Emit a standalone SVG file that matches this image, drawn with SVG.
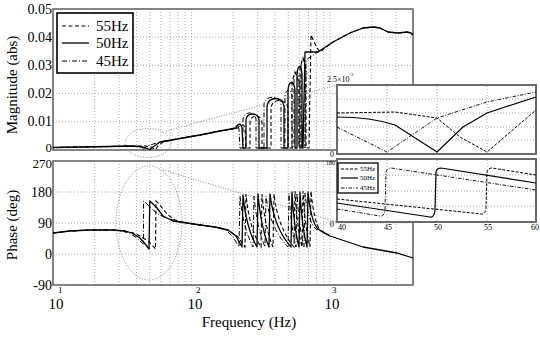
<svg xmlns="http://www.w3.org/2000/svg" width="540" height="338" viewBox="0 0 540 338">
<style>
.grid{stroke:#9a9a9a;stroke-width:0.8;stroke-dasharray:1 2;fill:none}
.frame{stroke:#666;stroke-width:1.6;fill:none}
.iframe{stroke:#6a6a6a;stroke-width:2;fill:#fff}
.c50{stroke:#000;stroke-width:1.3;fill:none;stroke-linejoin:round}
.c55{stroke:#000;stroke-width:1.1;fill:none;stroke-dasharray:4 2.5}
.c45{stroke:#000;stroke-width:1;fill:none;stroke-dasharray:5 2 1 2}
.i50{stroke:#000;stroke-width:1.2;fill:none}
.i55{stroke:#000;stroke-width:1;fill:none;stroke-dasharray:3 1.5}
.i45{stroke:#000;stroke-width:0.9;fill:none;stroke-dasharray:3.5 1.5 1 1.5}
.zoom{stroke:#777;stroke-width:0.9;fill:none;stroke-dasharray:1 1.6}
text{font-family:'Liberation Serif','Times New Roman',serif;fill:#000}
.tl{font-size:15px}
.tls{font-size:14px;text-anchor:end}
.tlx{font-size:13px;text-anchor:end}
.sup{font-size:9px}
.it{font-size:8px}
</style>
<rect x="0" y="0" width="540" height="338" fill="#fff"/>

<g id="magnitude-axes" font-family="Liberation Serif, serif">
<path class="grid" d="M94.7,9V150M119.1,9V150M136.4,9V150M149.8,9V150M160.8,9V150M170,9V150M178.1,9V150M185.2,9V150M191.5,9V150M233.2,9V150M257.6,9V150M274.9,9V150M288.3,9V150M299.3,9V150M308.5,9V150M316.6,9V150M323.7,9V150M330,9V150M371.7,9V150M396.1,9V150M53,121.8H413M53,93.6H413M53,65.4H413M53,37.2H413"/>
<rect class="frame" x="53" y="9" width="360" height="141"/>
<text class="tls" x="52" y="14">0.05</text>
<text class="tls" x="52" y="42">0.04</text>
<text class="tls" x="52" y="70">0.03</text>
<text class="tls" x="52" y="98">0.02</text>
<text class="tls" x="52" y="126">0.01</text>
<text class="tlx" x="52" y="152">0</text>
<text class="tl" transform="translate(17,85) rotate(-90)" text-anchor="middle">Magnitude (abs)</text>
</g>

<g id="phase-axes" font-family="Liberation Serif, serif">
<path class="grid" d="M94.7,161V285M119.1,161V285M136.4,161V285M149.8,161V285M160.8,161V285M170,161V285M178.1,161V285M185.2,161V285M191.5,161V285M233.2,161V285M257.6,161V285M274.9,161V285M288.3,161V285M299.3,161V285M308.5,161V285M316.6,161V285M323.7,161V285M330,161V285M371.7,161V285M396.1,161V285M53,192H413M53,223H413M53,254H413"/>
<rect class="frame" x="53" y="161" width="360" height="124"/>
<text class="tlx" x="52" y="167.5">270</text>
<text class="tls" x="52" y="197">180</text>
<text class="tls" x="52" y="228">90</text>
<text class="tls" x="52" y="259">0</text>
<text class="tls" x="52" y="290">-90</text>
<text class="tl" transform="translate(17,225) rotate(-90)" text-anchor="middle">Phase (deg)</text>
<text class="tl" x="56" y="309" text-anchor="middle">10</text><text class="sup" x="58" y="293">1</text>
<text class="tl" x="195" y="309" text-anchor="middle">10</text><text class="sup" x="196" y="293">2</text>
<text class="tl" x="332" y="309" text-anchor="middle">10</text><text class="sup" x="332" y="293">3</text>
<text class="tl" x="249" y="327" text-anchor="middle">Frequency  (Hz)</text>
</g>

<g id="magnitude-curves">
<path class="c50" d="M53,147.5L80,147L110,146.5L130,146L140,146.5L146,148L150,149.5L153,147L160,142L180,138.5L200,135L220,131L236,128C238,123 241,123 242,128L243,148L246,148L246,120C247,112 258,112 259,120L259,148L267,148L267,106C268,96 283,96 284,106L284,148L288,148L288,90C289,80 294,80 295,90L295,148L297,148L297,74C298,64 301,64 302,74L302,148L303,148L305,52L318,52L333,42L350,33L363,28L373,27L380,28L388,32L398,33L407,32L411,33L413,35"/>
<path class="c55" d="M53,147.5L80,147L110,146.5L130,146L145,146L151,147L155.5,149.5L158,146L163,142L180,138.5L200,135L220,131L237,128.5C241,124 244,124 245,128L246,148L250,148L250,122C251,114 261,114 262,122L262,148L271,148L271,108C272,98 287,98 288,108L288,148L292,148L292,82L295,72L299,82L299,148L300,148L300,68L303,58L306,68L306,148L309,148L311,35L316,46L320,52L333,42L350,33L363,28L373,27L380,28L388,32L398,33L407,32L411,33L413,35"/>
<path class="c45" d="M53,147.5L80,147L110,146.5L130,146L137,146.5L143.4,149L147,146L155,143.5L165,141L180,138.5L200,135L220,131L233,129C235,125 238,125 239,129L240,148L243,148L243,119C244,111 255,111 256,119L256,148L264,148L264,104C265,95 280,95 281,104L281,148L285,148L285,96C286,88 291,88 292,96L292,148L294,148L294,78C295,70 298,70 299,78L299,148L301,148L301,64C302,57 304,57 305,64L305,148L306,60L318,52"/>
</g>

<g id="phase-curves">
<path class="c50" d="M53,233L70,231L90,230L113,230L125,231L132,233L140,238L146,245L149,249L149.8,201L152,203L157,208L163,216L173,221L187,223L200,225L215,227L228,230L236,236L242,247L243,195Q246,228 257,247L258,194Q261,228 269,247L270,194Q274,228 291,247L292,192Q294,228 299,247L300,192Q302,228 307,247L308,192Q311,222 318,229L330,236L363,247L397,253L413,258"/>
<path class="c55" d="M53,233L70,231L90,230L113,230L125,231L132,232.5L140,236L148,241L154,247L155.5,249L156,201L159,204L163,209L168,215L175,220L187,223L200,225L215,227L228,230L238,237L245,247L246,194Q249,228 261,247L262,194Q265,228 273,247L274,194Q278,228 294,247L295,191Q297,228 302,247L303,191Q305,228 310,247L311,191Q314,222 320,230L330,236"/>
<path class="c45" d="M53,233L70,231L90,230L113,230L122,231L130,233.5L137,238L142,243L143.4,244L143.6,201L147,204L152,209L158,214L166,218L180,222L200,225L215,227L226,230L233,237L239,247L240,196Q243,228 253,247L254,196Q257,228 265,247L266,196Q270,228 288,247L289,193Q291,228 296,247L297,193Q299,228 304,247L305,193Q308,222 316,229L330,236"/>
</g>

<g id="legend" font-family="Liberation Serif, serif">
<rect x="57" y="13" width="76" height="60" fill="#fff" stroke="#000" stroke-width="1.6"/>
<line class="c55" x1="62" y1="26" x2="89" y2="26"/>
<line class="c50" x1="62" y1="43" x2="89" y2="43"/>
<line class="c45" x1="62" y1="61" x2="89" y2="61"/>
<text class="tl" x="96" y="31">55Hz</text>
<text class="tl" x="96" y="48">50Hz</text>
<text class="tl" x="96" y="66">45Hz</text>
</g>

<g id="zoom-markers">
<ellipse class="zoom" cx="148" cy="143" rx="23" ry="14.5"/>
<line class="zoom" x1="166" y1="131" x2="337" y2="85"/>
<ellipse class="zoom" cx="149" cy="223" rx="33" ry="57"/>
<line class="zoom" x1="163" y1="170" x2="337" y2="222"/>
</g>

<g id="inset-magnitude" font-family="Liberation Serif, serif">
<rect class="iframe" x="337" y="85" width="199" height="69"/>
<path class="grid" d="M387,86V153M437,86V153M487,86V153M338,99H535M338,113H535M338,127H535M338,140H535"/>
<path class="i45" d="M337,127L387,152L437,118L487,102L536,92"/>
<path class="i50" d="M337,117C360,117 380,120 395,125L437,152L463,127L487,113L536,97"/>
<path class="i55" d="M337,113L395,112L437,118L460,137L487,152L536,110"/>
<text class="it" x="327" y="82">2.5</text>
<text class="it" x="337" y="82">×10</text>
<text x="349" y="76" style="font-size:5px">-3</text>
<text class="it" x="330" y="157">0</text>
</g>

<g id="inset-phase" font-family="Liberation Serif, serif">
<rect class="iframe" x="337" y="159" width="199" height="63"/>
<path class="grid" d="M387,160V221M437,160V221M487,160V221M338,175H535M338,191H535M338,206H535"/>
<path class="i50" d="M337,203L430,217Q434,218 435,210L436,172Q437,168 441,168L536,183"/>
<path class="i55" d="M337,199L482,214Q485,215 486,208L487,172Q488,168 492,168L536,175"/>
<path class="i45" d="M337,209L380,216Q384,217 385,210L386,172Q387,168 391,168L536,190"/>
<rect x="338" y="163" width="40" height="30" fill="#fff" stroke="#000" stroke-width="1.3"/>
<line class="i55" x1="341" y1="169" x2="358" y2="169"/>
<line class="i50" x1="341" y1="178" x2="358" y2="178"/>
<line class="i45" x1="341" y1="188" x2="358" y2="188"/>
<text x="360" y="171" style="font-size:7px">55Hz</text>
<text x="360" y="180" style="font-size:7px">50Hz</text>
<text x="360" y="190" style="font-size:7px">45Hz</text>
<text x="326" y="165" style="font-size:6px">180</text>
<text class="it" x="330" y="227">0</text>
<text class="it" x="342" y="230" text-anchor="middle">40</text>
<text class="it" x="388" y="230" text-anchor="middle">45</text>
<text class="it" x="438" y="230" text-anchor="middle">50</text>
<text class="it" x="488" y="230" text-anchor="middle">55</text>
<text class="it" x="535" y="230" text-anchor="middle">60</text>
</g>
</svg>
